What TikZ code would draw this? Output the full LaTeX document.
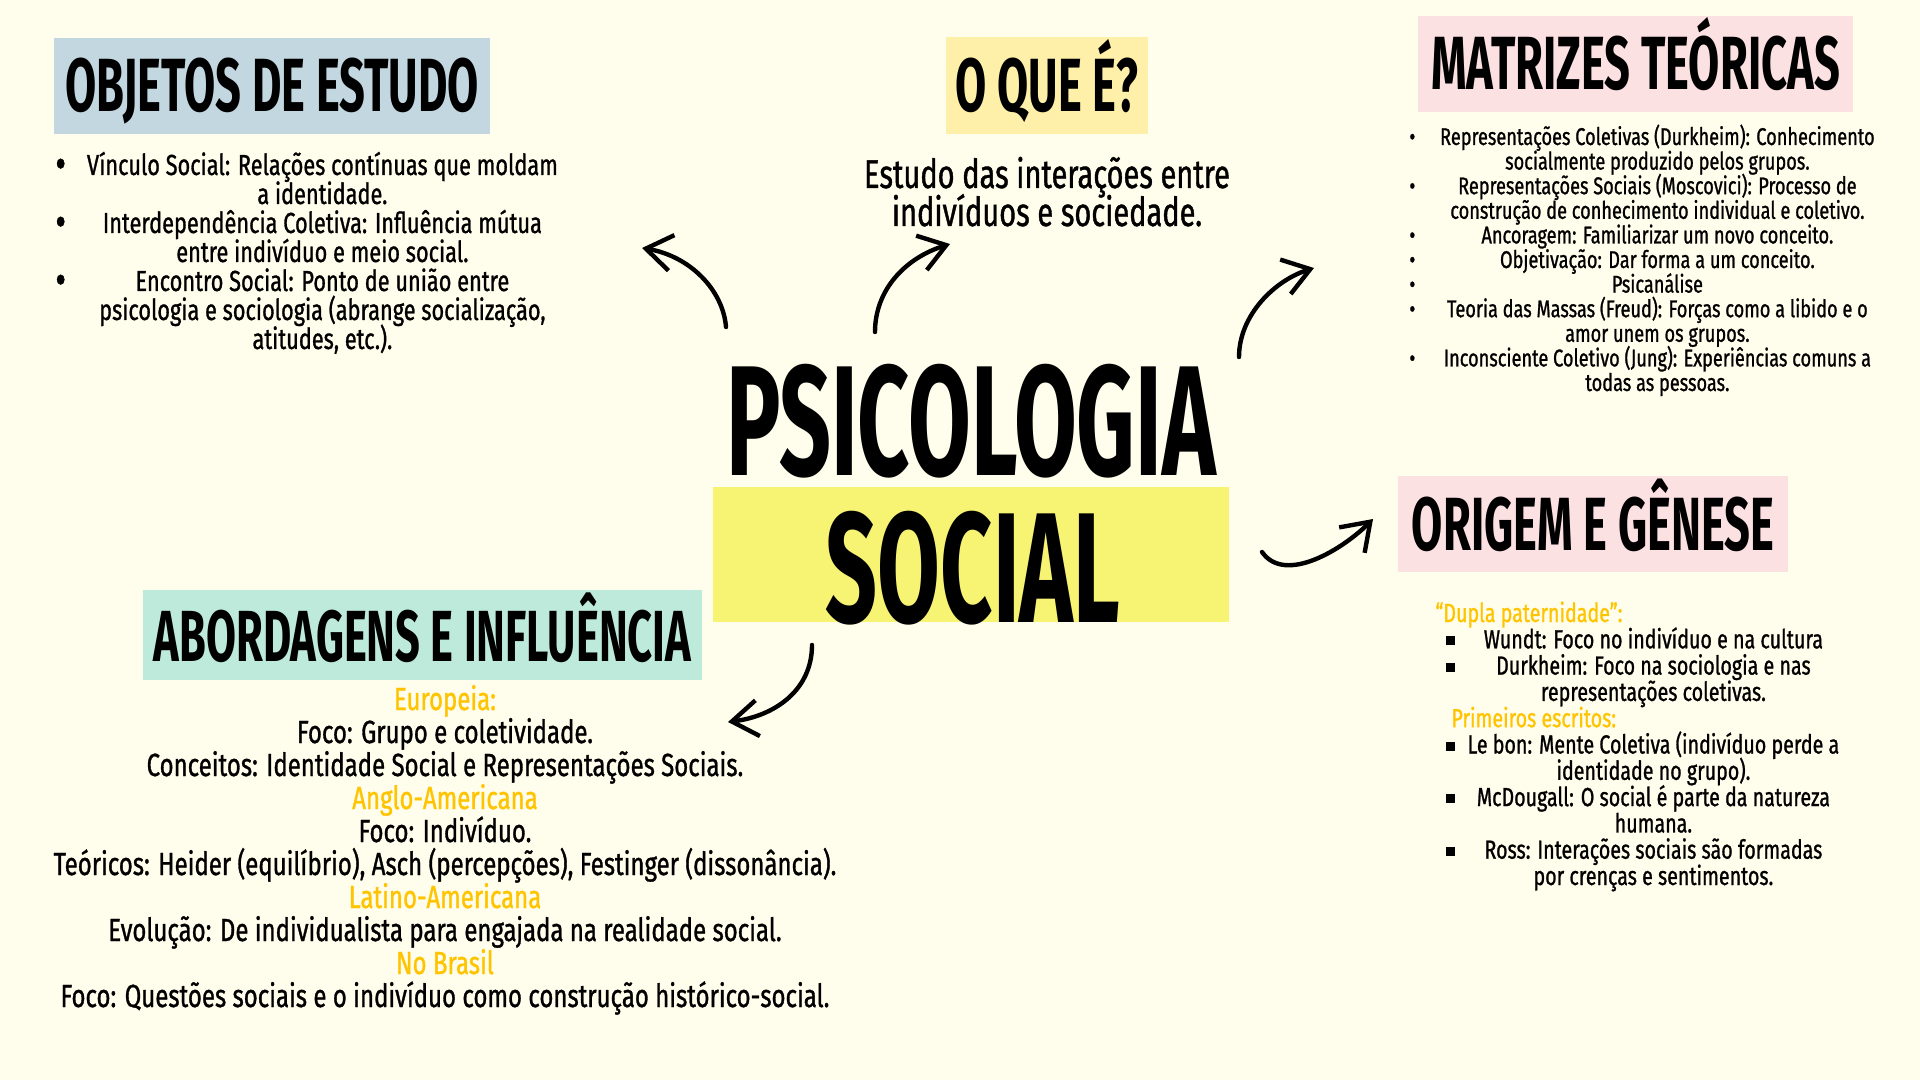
\documentclass[tikz,border=0pt]{standalone}
\usepackage{fontspec}
\setmainfont{Fira Sans}[FakeStretch=0.75,FakeBold=1]
\newfontfamily\leadfont{Fira Sans}[FakeStretch=0.725,FakeBold=1]
\newfontfamily\headfont{Fira Sans}[FakeStretch=0.6]
\newfontfamily\titlefont{Fira Sans}[FakeStretch=0.58]
\usepackage{xcolor}
\definecolor{psbg}{HTML}{FFFEEC}
\definecolor{psblue}{HTML}{C3D7E1}
\definecolor{pscream}{HTML}{FEF0A8}
\definecolor{pspink}{HTML}{FCE1E3}
\definecolor{psmint}{HTML}{BDEADB}
\definecolor{psyellow}{HTML}{F7F373}
\definecolor{psorange}{HTML}{FFC400}
\usepackage{tikz}
\usetikzlibrary{arrows.meta}

\newlength\bulw
\newlength\itemw
\newcommand{\bline}[2]{\makebox[\bulw][l]{#1}\makebox[\itemw][c]{#2}}
\newcommand{\dotbul}{\smash{\raisebox{-0.12em}{\scalebox{1.5}{\textbullet}}}}
\newcommand{\sqbul}{\hspace*{5.5pt}\rule[1.5pt]{4.5pt}{4.5pt}}
\newcommand{\fixlines}{\leavevmode\lineskiplimit=-\maxdimen\lineskip=0pt\relax}

\begin{document}
\begin{tikzpicture}[x=0.5pt,y=-0.5pt,
  headbox/.style={inner sep=0pt,text height=26pt,text depth=0pt,
    font=\headfont\bfseries\fontsize{37.7}{37.7}\selectfont},
  listtxt/.style={inner sep=0pt,anchor=base west},
  centtxt/.style={inner sep=0pt,anchor=base},
  handarrow/.style={line width=2.2pt,line cap=round,
    -{Straight Barb[length=13pt,width=18pt,line width=2.2pt]}}]
\fill[psbg] (0,0) rectangle (1920,1080);

% titulos
\node[headbox,fill=psblue,minimum width=218pt,minimum height=48pt] (objetos) at (272,86) {OBJETOS DE ESTUDO};
\node[headbox,fill=pscream,minimum width=101pt,minimum height=48.5pt] (oque) at (1047,85.5) {O QUE É?};
\node[headbox,fill=pspink,minimum width=217.5pt,minimum height=48pt] (matrizes) at (1635.5,64) {MATRIZES TEÓRICAS};
\node[headbox,fill=pspink,minimum width=195pt,minimum height=48pt] (origem) at (1593,524) {ORIGEM E GÊNESE};
\node[headbox,fill=psmint,minimum width=279.5pt,minimum height=45pt,
  font=\headfont\bfseries\fontsize{36.2}{36.2}\selectfont] (abord) at (422.5,635) {ABORDAGENS E INFLUÊNCIA};

% centro
\node[fill=psyellow,inner sep=0pt,minimum width=258pt,minimum height=67.5pt] (socialbox) at (971,554.5) {};
\node[centtxt,font=\titlefont\bfseries\fontsize{78.4}{78.4}\selectfont] (psico) at (971,475) {PSICOLOGIA};
\node[centtxt,font=\titlefont\bfseries\fontsize{78.4}{78.4}\selectfont] (social) at (973,622) {SOCIAL};

% textos
\node[centtxt,font=\leadfont\fontsize{20}{19}\selectfont] (oquetxt) at (1047,188) {%
\begin{minipage}[t]{200pt}\fixlines\centering
Estudo das interações entre\\
indivíduos e sociedade.
\end{minipage}};

\node[listtxt,font=\fontsize{14.5}{14.5}\selectfont] (objlist) at (55,175) {%
\setlength\bulw{10pt}\setlength\itemw{247pt}%
\begin{minipage}[t]{257pt}\fixlines
\bline{\dotbul}{Vínculo Social: Relações contínuas que moldam}\\
\bline{}{a identidade.}\\
\bline{\dotbul}{Interdependência Coletiva: Influência mútua}\\
\bline{}{entre indivíduo e meio social.}\\
\bline{\dotbul}{Encontro Social: Ponto de união entre}\\
\bline{}{psicologia e sociologia (abrange socialização,}\\
\bline{}{atitudes, etc.).}
\end{minipage}};

\node[listtxt,font=\fontsize{12.1}{12.3}\selectfont] (matlist) at (1409,145) {%
\setlength\bulw{9pt}\setlength\itemw{230pt}%
\begin{minipage}[t]{239pt}\fixlines
\bline{\textbullet}{Representações Coletivas (Durkheim): Conhecimento}\\
\bline{}{socialmente produzido pelos grupos.}\\
\bline{\textbullet}{Representações Sociais (Moscovici): Processo de}\\
\bline{}{construção de conhecimento individual e coletivo.}\\
\bline{\textbullet}{Ancoragem: Familiarizar um novo conceito.}\\
\bline{\textbullet}{Objetivação: Dar forma a um conceito.}\\
\bline{\textbullet}{Psicanálise}\\
\bline{\textbullet}{Teoria das Massas (Freud): Forças como a libido e o}\\
\bline{}{amor unem os grupos.}\\
\bline{\textbullet}{Inconsciente Coletivo (Jung): Experiências comuns a}\\
\bline{}{todas as pessoas.}
\end{minipage}};

\node[listtxt,font=\fontsize{13.1}{13.15}\selectfont] (origlist) at (1435,622) {%
\setlength\bulw{14pt}\setlength\itemw{190pt}%
\begin{minipage}[t]{204pt}\fixlines
\textcolor{psorange}{“Dupla paternidade”:}\\
\bline{\sqbul}{Wundt: Foco no indivíduo e na cultura}\\
\bline{\sqbul}{Durkheim: Foco na sociologia e nas}\\
\bline{}{representações coletivas.}\\
\hspace*{8pt}\textcolor{psorange}{Primeiros escritos:}\\
\bline{\sqbul}{Le bon: Mente Coletiva (indivíduo perde a}\\
\bline{}{identidade no grupo).}\\
\bline{\sqbul}{McDougall: O social é parte da natureza}\\
\bline{}{humana.}\\
\bline{\sqbul}{Ross: Interações sociais são formadas}\\
\bline{}{por crenças e sentimentos.}
\end{minipage}};

\node[centtxt,font=\fontsize{16}{16.5}\selectfont] (abordtxt) at (445,710) {%
\begin{minipage}[t]{440pt}\fixlines\centering
\textcolor{psorange}{Europeia:}\\
Foco: Grupo e coletividade.\\
Conceitos: Identidade Social e Representações Sociais.\\
\textcolor{psorange}{Anglo-Americana}\\
Foco: Indivíduo.\\
Teóricos: Heider (equilíbrio), Asch (percepções), Festinger (dissonância).\\
\textcolor{psorange}{Latino-Americana}\\
Evolução: De individualista para engajada na realidade social.\\
\textcolor{psorange}{No Brasil}\\
Foco: Questões sociais e o indivíduo como construção histórico-social.
\end{minipage}};

% setas
\coordinate (a1s) at (726,327);
\coordinate (a1e) at (642,248);
\coordinate (a2s) at (875,332);
\coordinate (a2e) at (950,244);
\coordinate (a3s) at (1239,357);
\coordinate (a3e) at (1314,268);
\coordinate (a4s) at (1262,552);
\coordinate (a4e) at (1373,519);
\coordinate (a5s) at (812,645);
\coordinate (a5e) at (728,722);
\draw[handarrow] (a1s) .. controls (723,290) and (690,256) .. (a1e);
\draw[handarrow] (a2s) .. controls (875,290) and (905,258) .. (a2e);
\draw[handarrow] (a3s) .. controls (1239,315) and (1275,280) .. (a3e);
\draw[handarrow] (a4s) .. controls (1285,585) and (1343,549) .. (a4e);
\draw[handarrow] (a5s) .. controls (812,690) and (775,716) .. (a5e);
\end{tikzpicture}
\end{document}
